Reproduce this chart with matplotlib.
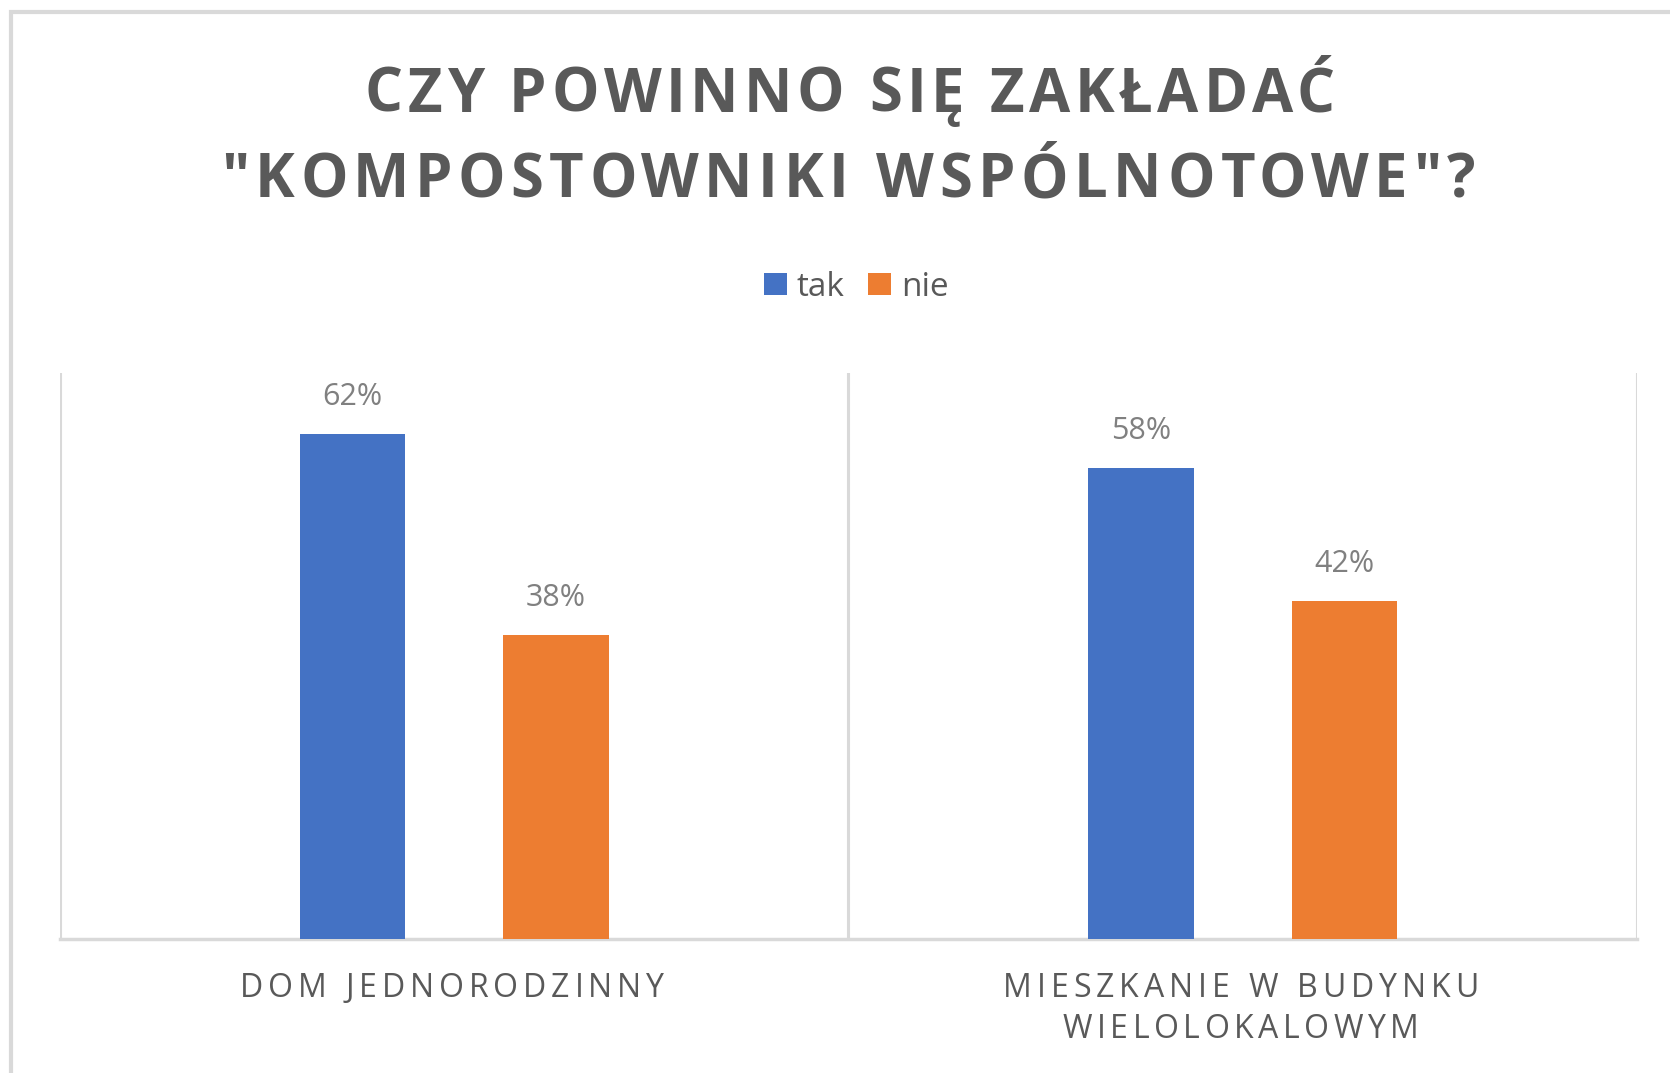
import matplotlib
matplotlib.use("Agg")
import matplotlib.pyplot as plt
from matplotlib.font_manager import FontProperties
from matplotlib.transforms import IdentityTransform
from matplotlib.patches import Rectangle
import numpy as np

# data (bar heights, labels show rounded values)
categories = [["DOM JEDNORODZINNY"], ["MIESZKANIE W BUDYNKU", "WIELOLOKALOWYM"]]
series_names = ["tak", "nie"]
tak = [62.45, 58.25]
nie = [37.55, 41.75]
title_lines = ["CZY POWINNO SIĘ ZAKŁADAĆ", "\"KOMPOSTOWNIKI WSPÓLNOTOWE\"?"]

W, H = 1670, 1073
blue = "#4472C4"
orange = "#ED7D31"
grid_c = "#D9D9D9"
text_c = "#595959"
label_c = "#808080"

fig = plt.figure(figsize=(W / 100, H / 100), dpi=100)
fig.patch.set_facecolor("white")

# outer chart border (only top and left visible)
fig.add_artist(Rectangle((11 / W, -0.2), 2, 1 - 12 / H + 0.2, transform=fig.transFigure,
                         fill=False, ec=grid_c, lw=3))

ax = fig.add_axes([60 / W, 1 - 939 / H, (1637 - 60) / W, (939 - 373) / H])
x = np.arange(len(tak)) + 0.5
bw = 0.134
off = 0.129
b1 = ax.bar(x - off, tak, bw, color=blue, label=series_names[0], zorder=3)
b2 = ax.bar(x + off, nie, bw, color=orange, label=series_names[1], zorder=3)

ax.set_xlim(0, 2)
ax.set_ylim(0, 70)
ax.set_yticks([])
ax.set_xticks([])
for v in [0, 1, 2]:
    ax.axvline(v, color=grid_c, lw=2.2, zorder=1)
for s in ["top", "right", "left"]:
    ax.spines[s].set_visible(False)
ax.spines["bottom"].set_color(grid_c)
ax.spines["bottom"].set_linewidth(2.5)
ax.patch.set_alpha(0)

lab_fp = FontProperties(family="Open Sans", size=22)
for bars, vals in [(b1, tak), (b2, nie)]:
    for r, v in zip(bars, vals):
        ax.annotate(f"{round(v):.0f}%", (r.get_x() + r.get_width() / 2, v), xytext=(0, 16),
                    textcoords="offset points", ha="center", va="bottom",
                    fontproperties=lab_fp, color=label_c)

leg = fig.legend(handles=[b1, b2], loc="center", bbox_to_anchor=(856 / W, 1 - 287 / H),
                 ncol=2, frameon=False, prop=FontProperties(family="Open Sans", size=24),
                 handlelength=0.69, handleheight=0.63, handletextpad=0.3,
                 columnspacing=0.7, borderpad=0)
for t in leg.get_texts():
    t.set_color(text_c)

renderer = fig.canvas.get_renderer()


def spaced_text(xc, y, s, fp, width, color):
    # draws s centred on xc (pixels) with letter spacing so it spans width
    base = renderer.get_text_width_height_descent("H", fp, ismath=False)[0]

    def adv(t):
        return renderer.get_text_width_height_descent(t + "H", fp, ismath=False)[0] - base

    natural = adv(s[:-1]) + renderer.get_text_width_height_descent(s[-1], fp, ismath=False)[0]
    gap = (width - natural) / (len(s) - 1)
    x0 = xc - width / 2
    for i, ch in enumerate(s):
        if ch == " ":
            continue
        fig.text(x0 + adv(s[:i]) + gap * i, y, ch, fontproperties=fp, color=color,
                 transform=IdentityTransform(), ha="left", va="baseline")


title_fp = FontProperties(family="Open Sans", weight="bold", size=43)
spaced_text(850, H - 112, title_lines[0], title_fp, 970, text_c)
spaced_text(848, H - 197, title_lines[1], title_fp, 1254, text_c)

cat_fp = FontProperties(family="Open Sans", size=23)
cat_widths = [[424], [476, 356]]
baselines = [H - 997, H - 1038]
for i, lines in enumerate(categories):
    xc = ax.transData.transform((x[i], 0))[0]
    for j, line in enumerate(lines):
        spaced_text(xc - 2, baselines[j], line, cat_fp, cat_widths[i][j], text_c)

fig.savefig("out.png", dpi=100, facecolor="white")
